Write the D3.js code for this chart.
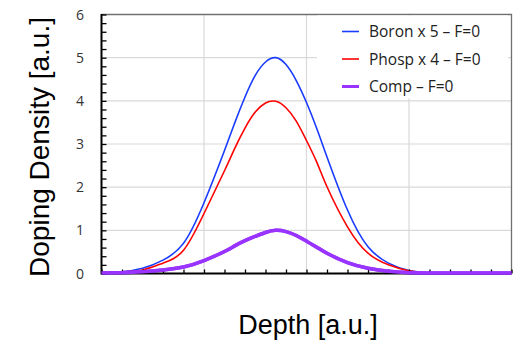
<!DOCTYPE html>
<html>
<head>
<meta charset="utf-8">
<script src="https://cdn.jsdelivr.net/npm/d3@7"></script>
<style>
  html, body { margin: 0; padding: 0; background: #fff; }
  svg { display: block; }
</style>
</head>
<body>
<script>
// values, depth in minor-tick units (0..20)
const boronX = [0, 1, 2, 3, 4, 5, 6, 6.5, 7, 7.5, 8, 8.5, 9, 9.5, 10, 10.5, 11, 12, 13, 14, 15, 16];
const boronY = [0.02, 0.04, 0.12, 0.31, 0.70, 1.64, 2.85, 3.49, 4.09, 4.59, 4.90, 5.0, 4.84, 4.47, 3.96, 3.36, 2.70, 1.47, 0.62, 0.24, 0.07, 0.01];

const phospX = [0, 1, 2, 3, 4, 5, 6, 6.5, 7, 7.5, 8, 8.5, 9, 9.5, 10, 10.5, 11, 12, 13, 14, 15, 16];
const phospY = [0.03, 0.04, 0.08, 0.24, 0.54, 1.39, 2.38, 2.90, 3.37, 3.74, 3.95, 3.99, 3.84, 3.53, 3.08, 2.58, 2.01, 1.08, 0.47, 0.20, 0.06, 0.01];

const compX = [0, 1, 2, 3, 4, 5, 6, 6.5, 7, 7.5, 8, 8.5, 9, 9.5, 10, 10.5, 11, 12, 13, 14, 15, 16, 17, 18, 19, 20];
const compY = [0.01, 0.02, 0.04, 0.08, 0.15, 0.30, 0.51, 0.64, 0.76, 0.86, 0.95, 1.0, 0.97, 0.88, 0.75, 0.61, 0.47, 0.25, 0.12, 0.05, 0.02, 0.01, 0.01, 0.01, 0.01, 0.01];

const seriesNames = ['Boron x 5 \u2013 F=0', 'Phosp x 4 \u2013 F=0', 'Comp \u2013 F=0'];
const seriesColors = ['#1a3cff', '#ff0000', '#9933ff'];
const seriesWidths = [1.6, 1.6, 3.5];

const yTicks = [0, 1, 2, 3, 4, 5, 6];

const width = 514;
const height = 341;
const margin = { left: 101.5, right: 2.5, top: 14.5, bottom: 67.5 };

const svg = d3.select('body')
  .append('svg')
  .attr('width', width)
  .attr('height', height);

const x = d3.scaleLinear()
  .domain([0, 20])
  .range([margin.left, width - margin.right]);

const y = d3.scaleLinear()
  .domain([0, 6])
  .range([height - margin.bottom, margin.top]);

// gridlines
svg.append('g')
  .selectAll('line')
  .data([1, 2, 3, 4, 5])
  .enter()
  .append('line')
  .attr('x1', x(0))
  .attr('x2', x(20))
  .attr('y1', (d) => y(d))
  .attr('y2', (d) => y(d))
  .style('stroke', '#d9d9d9')
  .style('stroke-width', 1.2);

svg.append('g')
  .selectAll('line')
  .data([5, 10, 15])
  .enter()
  .append('line')
  .attr('x1', (d) => x(d))
  .attr('x2', (d) => x(d))
  .attr('y1', y(0))
  .attr('y2', y(6))
  .style('stroke', '#d9d9d9')
  .style('stroke-width', 1.2);

// top + right frame
svg.append('path')
  .attr('d', `M${x(0)},${y(6)}H${x(20)}V${y(0)}`)
  .attr('fill', 'none')
  .style('stroke', '#707070')
  .style('stroke-width', 1.3);

// legend box (white, covers gridlines)
const legend = svg.append('g');
legend.append('rect')
  .attr('x', 317)
  .attr('y', y(6) + 1)
  .attr('width', 191)
  .attr('height', 83)
  .attr('fill', '#fff');

// curves
const line = d3.line()
  .x((d) => x(d[0]))
  .y((d) => y(d[1]))
  .curve(d3.curveNatural);

const series = [
  d3.zip(boronX, boronY),
  d3.zip(phospX, phospY),
  d3.zip(compX, compY)
];

svg.append('g')
  .selectAll('path')
  .data(series)
  .enter()
  .append('path')
  .attr('d', line)
  .attr('fill', 'none')
  .style('stroke', (d, i) => seriesColors[i])
  .style('stroke-width', (d, i) => seriesWidths[i])
  .style('stroke-linejoin', 'round');

// axes
const yAxis = d3.axisRight(y)
  .tickValues(d3.range(0, 6.01, 0.2))
  .tickSize(5)
  .tickFormat('');

svg.append('g')
  .attr('transform', `translate(${x(0)},0)`)
  .call(yAxis)
  .call((g) => g.selectAll('line').style('stroke', '#000').style('stroke-width', 1.3))
  .call((g) => g.select('.domain').remove());

const xAxis = d3.axisTop(x)
  .tickValues(d3.range(0, 21, 1))
  .tickSize(4)
  .tickFormat('');

svg.append('g')
  .attr('transform', `translate(0,${y(0)})`)
  .call(xAxis)
  .call((g) => g.selectAll('line').style('stroke', '#000').style('stroke-width', 1.3))
  .call((g) => g.select('.domain').remove());

svg.append('line')
  .attr('x1', x(0))
  .attr('x2', x(0))
  .attr('y1', y(6) - 0.5)
  .attr('y2', y(0) + 1)
  .style('stroke', '#000')
  .style('stroke-width', 2);

svg.append('line')
  .attr('x1', x(0))
  .attr('x2', x(20))
  .attr('y1', y(0))
  .attr('y2', y(0))
  .style('stroke', '#000')
  .style('stroke-width', 2);

// comp sits over the x axis line in the picture
svg.append('path')
  .datum(series[2])
  .attr('d', line)
  .attr('fill', 'none')
  .style('stroke', seriesColors[2])
  .style('stroke-width', seriesWidths[2]);

// y tick labels
svg.append('g')
  .selectAll('text')
  .data(yTicks)
  .enter()
  .append('text')
  .attr('x', 84)
  .attr('y', (d) => y(d) + 5)
  .attr('text-anchor', 'end')
  .style('font-family', '"Open Sans", Lato, sans-serif')
  .style('font-size', '14px')
  .style('fill', '#333')
  .text((d) => d);

// legend entries
const entry = legend.selectAll('.entry')
  .data(seriesNames)
  .enter()
  .append('g')
  .attr('transform', (d, i) => `translate(0,${31.5 + i * 27.5})`);

entry.append('line')
  .attr('x1', 342)
  .attr('x2', 359)
  .attr('y1', 0)
  .attr('y2', 0)
  .style('stroke', (d, i) => seriesColors[i])
  .style('stroke-width', (d, i) => i === 2 ? 3 : 1.6);

entry.append('text')
  .attr('x', 369)
  .attr('y', 5.5)
  .style('font-family', '"Open Sans", Lato, sans-serif')
  .style('font-size', '15.5px')
  .style('fill', '#222')
  .text((d) => d);

// axis titles
svg.append('text')
  .attr('x', 308)
  .attr('y', 334)
  .attr('text-anchor', 'middle')
  .style('font-family', '"Liberation Sans", Arial, sans-serif')
  .style('font-size', '27px')
  .style('fill', '#000')
  .text('Depth [a.u.]');

svg.append('text')
  .attr('transform', 'translate(49,147) rotate(-90)')
  .attr('text-anchor', 'middle')
  .style('font-family', '"Liberation Sans", Arial, sans-serif')
  .style('font-size', '28px')
  .style('fill', '#000')
  .text('Doping Density [a.u.]');
</script>
</body>
</html>
